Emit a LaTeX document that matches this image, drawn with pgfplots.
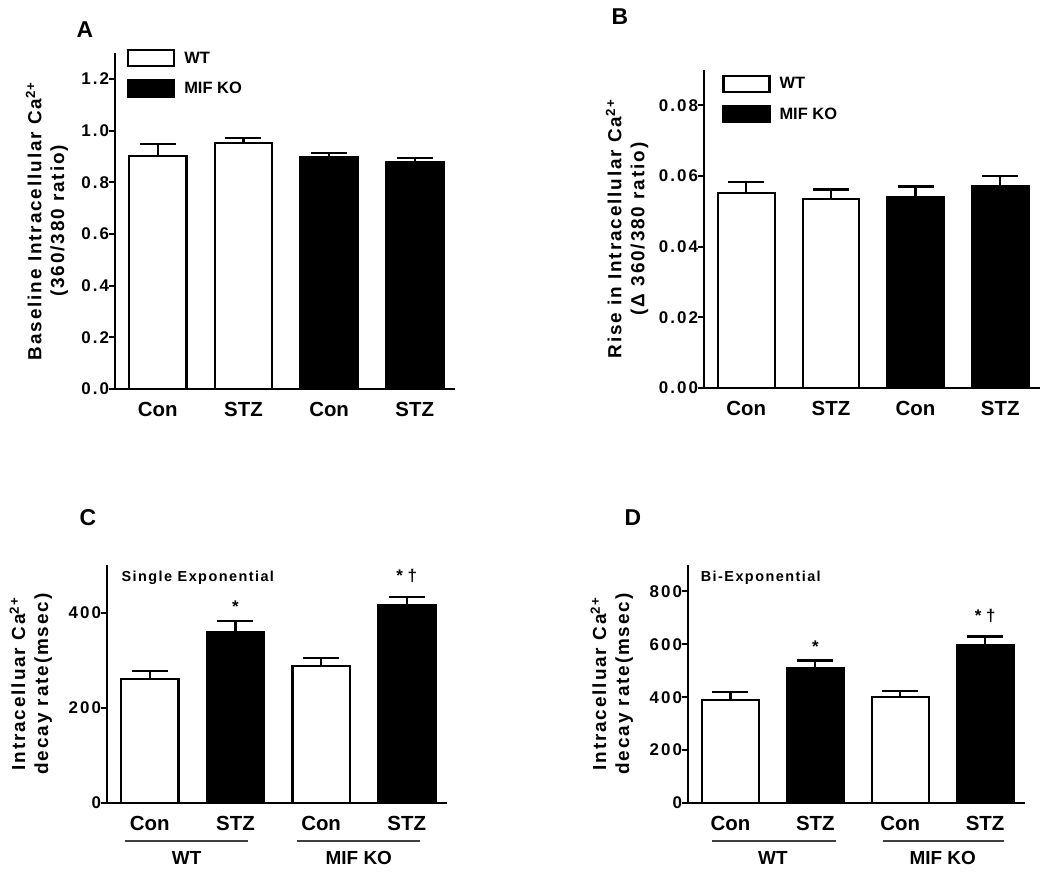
\documentclass[border=0pt]{standalone}
\usepackage{fontspec}
\setmainfont{Liberation Sans}
\newfontfamily\widefont{Liberation Sans}[LetterSpace=10]
\newfontfamily\tickfont{Liberation Sans}[LetterSpace=12]
\usepackage{pgfplots}
\pgfplotsset{compat=1.18}
\pgfplotsset{
 panel/.style={
  scale only axis,
  axis x line*=bottom, axis y line*=left,
  axis line style={line width=2.5bp},
  ytick style={line width=2bp, black},
  xtick style={draw=none},
  ytick pos=left,
  tick align=outside, major tick length=6bp,
  xtick={0,1,2,3}, xticklabels={Con,STZ,Con,STZ},
  xmin=-0.5, xmax=3.47, ymin=0,
  ybar, bar width=0.67,
  scaled y ticks=false,
  /pgf/number format/assume math mode=true,
  yticklabel style={font=\tickfont\bfseries\fontsize{17}{17}\selectfont, xshift=3.5bp},
  xticklabel style={font=\bfseries\fontsize{20.5}{20.5}\selectfont, yshift=-4bp},
  ylabel style={font=\widefont\bfseries\fontsize{19}{23}\selectfont, align=center, anchor=center},
  clip=false,
 },
 wbar/.style={draw=black, fill=white, line width=2.2bp, bar shift=0pt,
  error bars/.cd, y dir=plus, y explicit,
  error bar style={line width=2.2bp, black},
  error mark options={rotate=90, line width=2.2bp, mark size=18bp, black}},
 kbar/.style={draw=black, fill=black, line width=2.2bp, bar shift=0pt,
  error bars/.cd, y dir=plus, y explicit,
  error bar style={line width=2.2bp, black},
  error mark options={rotate=90, line width=2.2bp, mark size=18bp, black}},
 leg/.style={
  legend image code/.code={\draw[##1, line width=2.2bp] (0bp,-8bp) rectangle (46bp,8bp);},
  legend cell align=left,
  legend style={draw=none, fill=none, font=\bfseries\fontsize{16.5}{16.5}\selectfont,
   inner sep=0pt, row sep=12bp, column sep=7bp, anchor=north west},
 },
}
\begin{document}
\begin{tikzpicture}
\useasboundingbox (0,0) rectangle (1050bp,876bp);
% Panel A
\begin{axis}[panel, leg, at={(115bp,487bp)}, anchor=south west,
  width=340bp, height=336bp, ymax=1.3, ytick={0,0.2,...,1.2},
  yticklabel style={/pgf/number format/fixed, /pgf/number format/fixed zerofill, /pgf/number format/precision=1},
  ylabel={Baseline Intracellular Ca\textsuperscript{2+}\\(360/380 ratio)},
  ylabel style={at={(axis description cs:-0.2,0.5)}},
  legend style={at={(axis description cs:0.035,1.012)}}]
\addplot[wbar] coordinates {(0,0.900) +- (0,0.047) (1,0.951) +- (0,0.019)};
\addplot[kbar] coordinates {(2,0.897) +- (0,0.016) (3,0.878) +- (0,0.015)};
\legend{WT, MIF KO}
\end{axis}
% Panel B
\begin{axis}[panel, leg, at={(704bp,488bp)}, anchor=south west,
  width=336bp, height=318bp, ymax=0.09, ytick={0,0.02,0.04,0.06,0.08},
  yticklabel style={/pgf/number format/fixed, /pgf/number format/fixed zerofill, /pgf/number format/precision=2},
  ylabel={Rise in Intracellular Ca\textsuperscript{2+}\\(Δ 360/380 ratio)},
  ylabel style={at={(axis description cs:-0.229,0.5)}},
  legend style={at={(axis description cs:0.054,0.985)}}]
\addplot[wbar] coordinates {(0,0.0553) +- (0,0.0029) (1,0.0536) +- (0,0.0026)};
\addplot[kbar] coordinates {(2,0.0540) +- (0,0.0030) (3,0.0570) +- (0,0.0031)};
\legend{WT, MIF KO}
\end{axis}
% Panel C
\begin{axis}[panel, at={(107bp,73bp)}, anchor=south west,
  width=340bp, height=238bp, ymax=500, ytick={0,200,400},
  ylabel={Intracelluar Ca\textsuperscript{2+}\\decay rate(msec)},
  ylabel style={at={(axis description cs:-0.224,0.5)}}]
\addplot[wbar] coordinates {(0,261) +- (0,17) (2,288) +- (0,17)};
\addplot[kbar] coordinates {(1,358) +- (0,25) (3,415) +- (0,17)};
\node[font=\widefont\bfseries\fontsize{14.5}{14.5}\selectfont, anchor=west] at (axis cs:-0.37,474) {Single Exponential};
\node[font=\bfseries\fontsize{17}{17}\selectfont] at (axis cs:1,412) {*};
\node[font=\bfseries\fontsize{17}{17}\selectfont] at (axis cs:3,476) {* †};
\draw[line width=1.6bp, black!75] ([yshift=-38bp]axis cs:-0.29,0) -- ([yshift=-38bp]axis cs:1.15,0);
\draw[line width=1.6bp, black!75] ([yshift=-38bp]axis cs:1.72,0) -- ([yshift=-38bp]axis cs:3.16,0);
\node[font=\bfseries\fontsize{19}{19}\selectfont] at ([yshift=-55bp]axis cs:0.43,0) {WT};
\node[font=\bfseries\fontsize{19}{19}\selectfont] at ([yshift=-55bp]axis cs:2.44,0) {MIF KO};
\end{axis}
% Panel D
\begin{axis}[panel, at={(688bp,73bp)}, anchor=south west,
  width=337bp, height=238bp, ymax=900, ytick={0,200,...,800},
  ylabel={Intracelluar Ca\textsuperscript{2+}\\decay rate(msec)},
  ylabel style={at={(axis description cs:-0.226,0.5)}}]
\addplot[wbar] coordinates {(0,390) +- (0,31) (2,402) +- (0,23)};
\addplot[kbar] coordinates {(1,512) +- (0,27) (3,599) +- (0,31)};
\node[font=\widefont\bfseries\fontsize{14.5}{14.5}\selectfont, anchor=west] at (axis cs:-0.39,850) {Bi-Exponential};
\node[font=\bfseries\fontsize{17}{17}\selectfont] at (axis cs:1,590) {*};
\node[font=\bfseries\fontsize{17}{17}\selectfont] at (axis cs:3,707) {* †};
\draw[line width=1.6bp, black!75] ([yshift=-38bp]axis cs:-0.22,0) -- ([yshift=-38bp]axis cs:1.24,0);
\draw[line width=1.6bp, black!75] ([yshift=-38bp]axis cs:1.8,0) -- ([yshift=-38bp]axis cs:3.22,0);
\node[font=\bfseries\fontsize{19}{19}\selectfont] at ([yshift=-55bp]axis cs:0.5,0) {WT};
\node[font=\bfseries\fontsize{19}{19}\selectfont] at ([yshift=-55bp]axis cs:2.5,0) {MIF KO};
\end{axis}
\node[font=\bfseries\fontsize{23}{23}\selectfont] at (85bp,846bp) {A};
\node[font=\bfseries\fontsize{23}{23}\selectfont] at (620bp,859bp) {B};
\node[font=\bfseries\fontsize{23}{23}\selectfont] at (88bp,358bp) {C};
\node[font=\bfseries\fontsize{23}{23}\selectfont] at (633bp,358bp) {D};
\end{tikzpicture}
\end{document}
